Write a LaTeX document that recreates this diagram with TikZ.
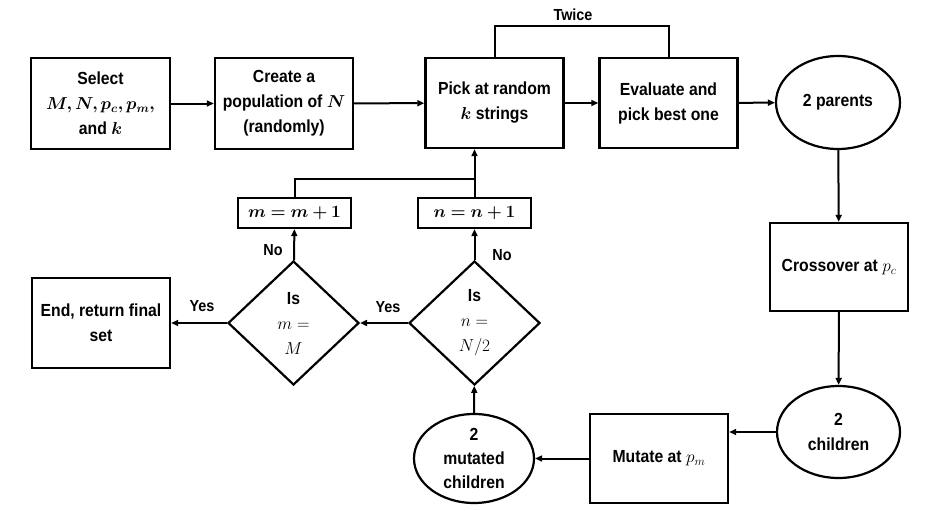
\documentclass[tikz,border=0pt]{standalone}
\usepackage{amsmath,bm}
\usepackage{fontspec}
\setmainfont{Liberation Sans}[FakeStretch=0.9]
\usetikzlibrary{shapes.geometric,arrows.meta}
\begin{document}
\begin{tikzpicture}[x=1pt,y=-1pt,
  font=\fontsize{17.5}{25}\selectfont\bfseries,
  box/.style={draw, line width=2.4pt, minimum width=138pt, minimum height=90pt, inner sep=2pt, align=center},
  oval/.style={draw, ellipse, line width=2.2pt, inner sep=0pt, align=center},
  decision/.style={draw, diamond, line width=2.2pt, inner sep=0pt, align=center},
  small/.style={draw, line width=2.2pt, minimum width=113pt, minimum height=30pt, inner sep=0pt},
  conn/.style={line width=2pt, -{Triangle[length=7pt,width=6pt]}},
  plain/.style={line width=2pt},
  lbl/.style={inner sep=0pt, font=\fontsize{16}{20}\selectfont\bfseries}]
\fill[white] (0,0) rectangle (940,511);
\useasboundingbox (0,0) rectangle (940,511);

\node[box, minimum width=139pt, minimum height=91pt] (select) at (100.5,103.5) {Select\\$\bm{M,N,p_c,p_m,}$\\and $\bm{k}$};
\node[box, minimum height=91pt] (create) at (284,103.5) {Create a\\population of $\bm{N}$\\(randomly)};
\node[box] (pick) at (494.5,103) {Pick at random\\$\bm{k}$ strings};
\node[box] (eval) at (668.5,103) {Evaluate and\\pick best one};
\node[oval, minimum width=124pt, minimum height=93pt] (parents) at (838,102.5) {2 parents};
\node[box, minimum height=88pt] (cross) at (839,267) {Crossover at $p_c$};
\node[oval, minimum width=123pt, minimum height=92pt] (children) at (838.5,432) {2\\children};
\node[box, minimum height=89pt] (mutate) at (659,458.5) {Mutate at $p_m$};
\node[oval, minimum width=120pt, minimum height=89pt, inner sep=-4pt, font=\fontsize{17.5}{24}\selectfont\bfseries] (mutated) at (474,458.5) {2\\mutated\\children};
\node[decision, minimum width=131pt, minimum height=124pt] (isn) at (474.5,323) {Is\\$n=$\\$N/2$};
\node[decision, minimum width=131pt, minimum height=124pt] (ism) at (293.5,323) {Is\\$m=$\\$M$};
\node[box, minimum height=90pt] (end) at (101,323) {End, return final\\set};
\node[small] (nbox) at (474.5,213) {$\bm{n=n+1}$};
\node[small] (mbox) at (294.5,213) {$\bm{m=m+1}$};

\node[lbl] (twice) at (573,15) {Twice};
\node[lbl] (yes1) at (202,306) {Yes};
\node[lbl] (yes2) at (388,307) {Yes};
\node[lbl] (no1) at (273,250) {No};
\node[lbl] (no2) at (502,255) {No};

\draw[conn] (select) -- (create);
\draw[conn] (create) -- (pick);
\draw[conn] (pick) -- (eval);
\draw[conn] (eval) -- (parents);
\draw[conn] (parents) -- (cross);
\draw[conn] (cross) -- (children);
\draw[conn] (children.west) -- (children.west -| mutate.east);
\draw[conn] (mutate) -- (mutated);
\draw[conn] (mutated) -- (isn);
\draw[conn] (isn) -- (ism);
\draw[conn] (ism) -- (end);
\draw[conn] (isn) -- (nbox);
\draw[conn] (ism) -- (mbox);
\draw[conn] (nbox.north) -- (nbox.north |- pick.south);
\coordinate (join) at (474.5,179);
\draw[plain] (mbox.north) |- (join);
\coordinate (tw) at (580,26);
\draw[plain] (pick.north) |- (tw) -| (eval.north);
\end{tikzpicture}
\end{document}
